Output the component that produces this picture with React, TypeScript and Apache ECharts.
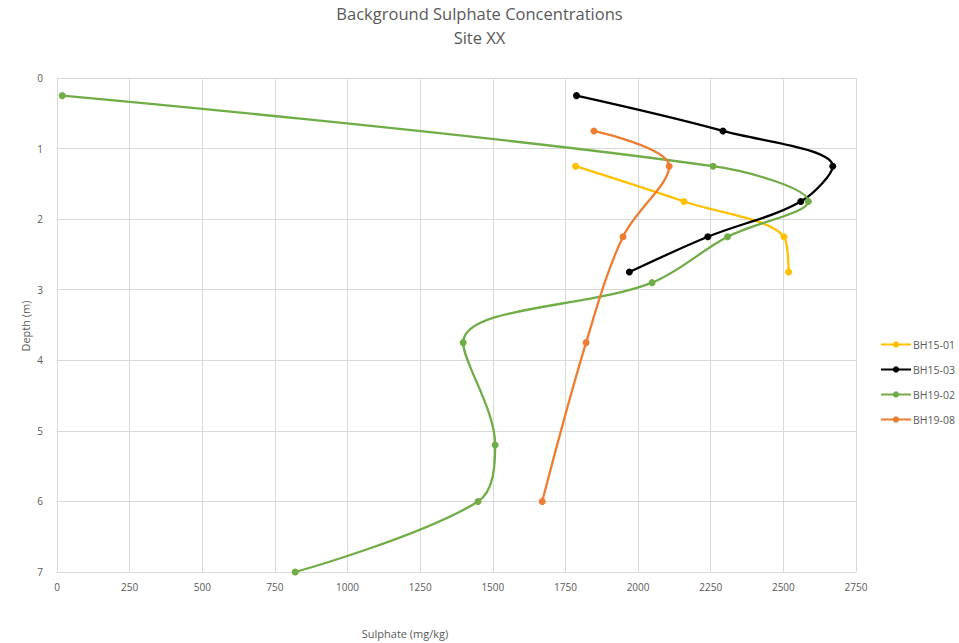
import React, { useEffect, useRef } from "react";
import * as echarts from "echarts";

const xTicks = [0, 250, 500, 750, 1000, 1250, 1500, 1750, 2000, 2250, 2500, 2750];
const seriesNames = ["BH15-01", "BH15-03", "BH19-02", "BH19-08"];
const colors = ["#FFC000", "#000000", "#70AD47", "#ED7D31"];

const bh1501Sulphate = [1785, 2158, 2502, 2518];
const bh1501Depth = [1.25, 1.75, 2.25, 2.75];

const bh1503Sulphate = [1788, 2292, 2670, 2560, 2240, 1970];
const bh1503Depth = [0.25, 0.75, 1.25, 1.75, 2.25, 2.75];

const bh1902Sulphate = [18, 2258, 2586, 2308, 2048, 1398, 1508, 1449, 820];
const bh1902Depth = [0.25, 1.25, 1.75, 2.25, 2.9, 3.75, 5.2, 6.0, 7.0];

const bh1908Sulphate = [1848, 2107, 1948, 1821, 1670];
const bh1908Depth = [0.75, 1.25, 2.25, 3.75, 6.0];

const pair = (xs: number[], ys: number[]) => xs.map((x, i) => [x, ys[i]]);

export default function App() {
  const ref = useRef<HTMLDivElement>(null);
  useEffect(() => {
    if (!ref.current) return;
    document.body.style.margin = "0";
    const chart = echarts.init(ref.current, null, { renderer: "svg" });
    const font = "Open Sans";
    const datasets = [
      pair(bh1501Sulphate, bh1501Depth),
      pair(bh1503Sulphate, bh1503Depth),
      pair(bh1902Sulphate, bh1902Depth),
      pair(bh1908Sulphate, bh1908Depth),
    ];
    chart.setOption({
      animation: false,
      backgroundColor: "#ffffff",
      textStyle: { fontFamily: font },
      title: {
        text: "Background Sulphate Concentrations\nSite XX",
        left: "center",
        top: 1,
        padding: 0,
        textStyle: {
          fontFamily: font,
          fontSize: 16.5,
          fontWeight: "normal",
          color: "#595959",
          lineHeight: 24,
        },
      },
      legend: {
        orient: "vertical",
        left: 880,
        top: 339,
        padding: 0,
        itemWidth: 30,
        itemHeight: 8,
        itemGap: 14,
        data: seriesNames,
        textStyle: { fontFamily: font, fontSize: 10.5, color: "#595959", padding: [0, 0, 0, -3] },
      },
      grid: { left: 57, right: 103, top: 78, bottom: 71, containLabel: false },
      xAxis: {
        type: "value",
        min: 0,
        max: xTicks[xTicks.length - 1],
        interval: 250,
        position: "bottom",
        axisLine: { show: true, onZero: false, lineStyle: { color: "#d9d9d9" } },
        axisTick: { show: false },
        axisLabel: {
          color: "#595959",
          fontSize: 10,
          fontFamily: font,
          margin: 10,
          formatter: (v: number) => String(v),
        },
        splitLine: { show: true, lineStyle: { color: "#d9d9d9", width: 1 } },
      },
      yAxis: {
        type: "value",
        inverse: true,
        min: 0,
        max: 7,
        interval: 1,
        axisLine: { show: true, onZero: false, lineStyle: { color: "#d9d9d9" } },
        axisTick: { show: false },
        axisLabel: { color: "#595959", fontSize: 10, fontFamily: font, margin: 14 },
        splitLine: { show: true, lineStyle: { color: "#d9d9d9", width: 1 } },
      },
      graphic: [
        {
          type: "text",
          x: 405,
          y: 633,
          style: {
            text: "Sulphate (mg/kg)",
            fill: "#595959",
            font: `11px '${font}'`,
            textAlign: "center",
            textVerticalAlign: "middle",
          },
        },
        {
          type: "text",
          x: 25,
          y: 326,
          rotation: Math.PI / 2,
          style: {
            text: "Depth (m)",
            fill: "#595959",
            font: `11px '${font}'`,
            textAlign: "center",
            textVerticalAlign: "middle",
          },
        },
      ],
      series: datasets.map((d, i) => ({
        name: seriesNames[i],
        type: "line",
        data: d,
        smooth: 0.35,
        symbol: "circle",
        symbolSize: 7,
        color: colors[i],
        lineStyle: { width: 2.3, color: colors[i] },
        itemStyle: { color: colors[i] },
      })),
    });
    return () => chart.dispose();
  }, []);
  return <div ref={ref} style={{ width: 959, height: 643 }} />;
}
